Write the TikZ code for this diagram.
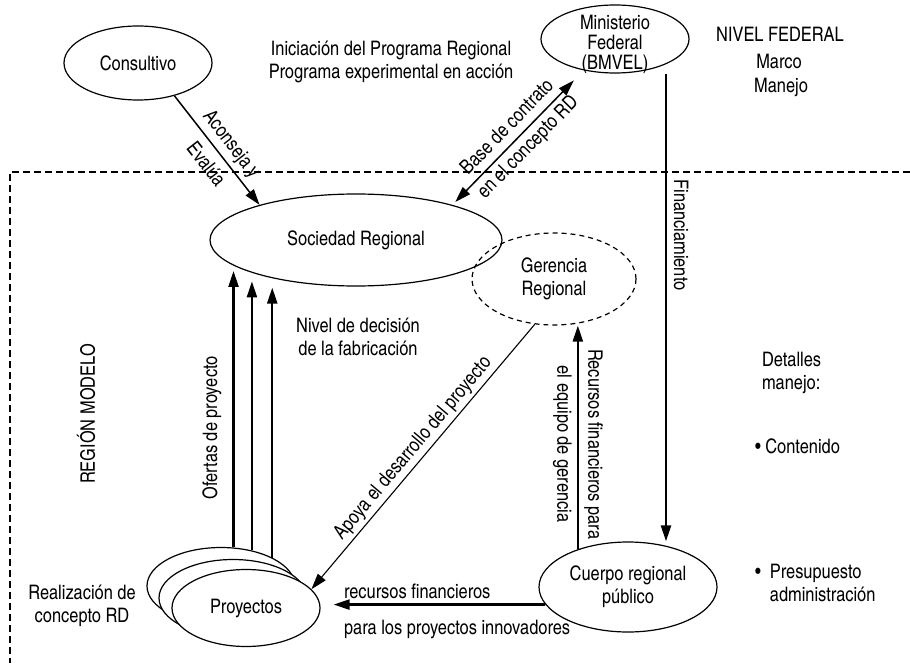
\documentclass[tikz,border=0pt]{standalone}
\usepackage{fontspec}
\setmainfont{TeX Gyre Heros Cn}
\usetikzlibrary{shapes.geometric, arrows.meta}

\begin{document}
\begin{tikzpicture}[x=0.5pt,y=-0.5pt,
  >={Triangle[length=8pt,width=5pt]},
  every node/.style={font=\fontsize{10}{11.5}\selectfont, align=center},
  blob/.style={draw, ellipse, line width=0.6pt, inner sep=0pt, fill=white},
  flow/.style={line width=1.15pt, ->},
  med flow/.style={line width=0.75pt, ->},
  slim flow/.style={line width=0.55pt, ->}]
\useasboundingbox (0,0) rectangle (910,663);
\draw[line width=0.6pt, dash pattern=on 3.5pt off 2pt] (910,172) -- (10,172) -- (10,663);

\node[blob, minimum width=74pt, minimum height=37pt] (cons) at (138,63) {Consultivo};
\node[blob, minimum width=74pt, minimum height=34pt] (bmvel) at (615,39) {};
\node[inner sep=0pt] (bmveltxt) at (615,44) {Ministerio\\[-1.5pt]Federal\\[-1.5pt](BMVEL)};
\node[blob, minimum width=146pt, minimum height=46pt] (soc) at (356,240) {Sociedad Regional};
\node[blob, fill=none, dash pattern=on 2.5pt off 2pt, minimum width=82pt, minimum height=46pt] (ger) at (554,279) {Gerencia\\Regional};
\node[blob, minimum width=89pt, minimum height=45pt] (cuer) at (628,587) {Cuerpo regional\\público};
\node[blob, minimum width=74pt, minimum height=38.5pt] (proj3) at (221,586) {};
\node[blob, minimum width=74pt, minimum height=38.5pt] (proj2) at (233,598) {};
\node[blob, minimum width=74pt, minimum height=38.5pt] (proj) at (246,608) {Proyectos};

\node (title) at (391,62) {Iniciación del Programa Regional\\Programa experimental en acción};
\node (fed) at (780,34) {NIVEL FEDERAL};
\node (marco) at (779,61) {Marco};
\node (manejo) at (781,87) {Manejo};
\node (nivel) at (358,337) {Nivel de decisión\\de la fabricación};
\node (region) at (86,414) [rotate=90] {REGIÓN MODELO};
\node (ofertas) at (212,428) [rotate=90] {Ofertas de proyecto};
\node (realiz) at (82,606) {Realización de\\concepto RD};
\node[anchor=west, align=left] (detalles) at (755,373) {Detalles\\manejo:};
\node[anchor=west, align=left] (cont) at (748,446) {\textbullet\ Contenido};
\node[anchor=west, align=left] (presup) at (748,583) {\textbullet\ \ Presupuesto\\\phantom{\textbullet\ \ }administración};

\draw[med flow] (cons.-42) -- node[sloped, pos=0.53] {Aconseja y\\[5pt]Evalúa} (soc.160);
\draw[med flow, <->, shorten <=2pt, shorten >=7pt] (soc.20) -- node[sloped, pos=0.5] {Base de contrato\\[3pt]en el concepto RD} (bmvel.-135);
\coordinate (finx) at (666,0);
\draw[flow] (bmvel.south -| finx) -- node[pos=0.345, rotate=-90, anchor=south] {Financiamiento} (cuer.north -| finx);
\draw[flow] (cuer.143) -- node[pos=0.47, rotate=-90] {Recursos financieros para\\[4pt]el equipo de gerencia} (cuer.143 |- ger.south);
\draw[slim flow] (ger.247) -- node[sloped, above, inner sep=1.5pt] {Apoya el desarrollo del proyecto} (proj.16);
\draw[flow, shorten >=6.5pt] (cuer.192) -- (proj.east |- cuer.192);
\node[anchor=west] (rf1) at (337,591) {recursos financieros};
\node[anchor=west] (rf2) at (337,629) {para los proyectos innovadores};
\foreach \a/\l in {72.5/276.5, 49.6/269, 29.6/270}
  \draw[flow] (proj3.\a) -- ++(0,-\l);
\end{tikzpicture}
\end{document}
